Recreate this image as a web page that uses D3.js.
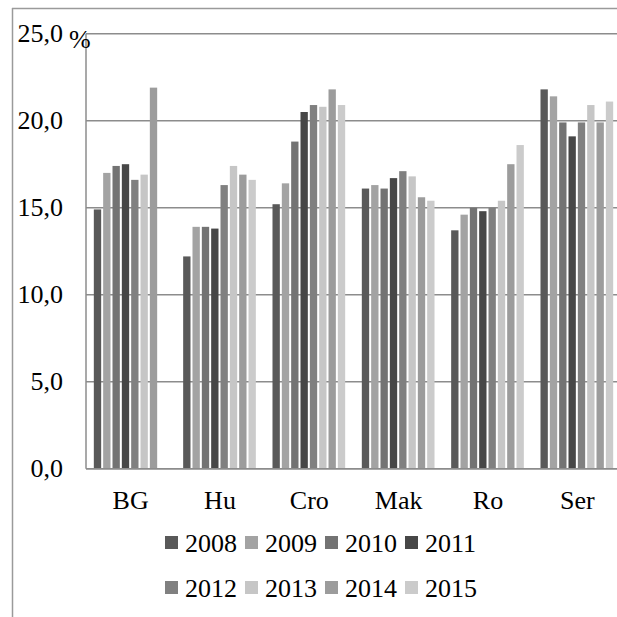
<!DOCTYPE html>
<html>
<head>
<meta charset="utf-8">
<script src="https://cdn.jsdelivr.net/npm/d3@7"></script>
<style>
  html, body { margin: 0; padding: 0; background: #fff; }
  svg { display: block; }
</style>
</head>
<body>
<svg id="chart" width="617" height="617"></svg>
<script>
// Countries along the x axis
const categories = ["BG", "Hu", "Cro", "Mak", "Ro", "Ser"];
// Years shown as the series
const years = ["2008", "2009", "2010", "2011", "2012", "2013", "2014", "2015"];
// Share (%) per country, one array per year
const v2008 = [14.9, 12.2, 15.2, 16.1, 13.7, 21.8];
const v2009 = [17.0, 13.9, 16.4, 16.3, 14.6, 21.4];
const v2010 = [17.4, 13.9, 18.8, 16.1, 15.0, 19.9];
const v2011 = [17.5, 13.8, 20.5, 16.7, 14.8, 19.1];
const v2012 = [16.6, 16.3, 20.9, 17.1, 15.0, 19.9];
const v2013 = [16.9, 17.4, 20.8, 16.8, 15.4, 20.9];
const v2014 = [21.9, 16.9, 21.8, 15.6, 17.5, 19.9];
const v2015 = [null, 16.6, 20.9, 15.4, 18.6, 21.1];
const seriesValues = [v2008, v2009, v2010, v2011, v2012, v2013, v2014, v2015];
// Y axis tick values and their labels
const yTicks = [0, 5, 10, 15, 20, 25];
const yTickLabels = ["0,0", "5,0", "10,0", "15,0", "20,0", "25,0"];
const unitLabel = "%";

const colors = ["#595959", "#a3a3a3", "#737373", "#474747", "#808080", "#c6c6c6", "#9c9c9c", "#cbcbcb"];

const FONT = "'Liberation Serif', 'Times New Roman', 'DejaVu Serif', serif";
const FS = 26;

const svg = d3.select("#chart");
const plot = { left: 86, right: 622, top: 33.7, bottom: 468.7 };
const gridColor = "#8c8c8c";

// Outer frame (left and top edges)
svg.append("line")
  .attr("x1", 12.5).attr("x2", 12.5).attr("y1", 8).attr("y2", 617)
  .attr("stroke", "#9a9a9a").attr("stroke-width", 1.5);
svg.append("line")
  .attr("x1", 12).attr("x2", 617).attr("y1", 8.5).attr("y2", 8.5)
  .attr("stroke", "#9a9a9a").attr("stroke-width", 1.5);

const x = d3.scaleBand().domain(categories).range([plot.left, plot.right]);
const bw = x.bandwidth();
const pad = bw * 0.082;
const xs = d3.scaleBand().domain(years).range([pad, bw - pad]);
const y = d3.scaleLinear().domain([0, 25]).range([plot.bottom, plot.top]);

// Horizontal gridlines
svg.append("g").selectAll("line").data(yTicks).join("line")
  .attr("x1", plot.left).attr("x2", plot.right)
  .attr("y1", d => y(d)).attr("y2", d => y(d))
  .attr("stroke", gridColor).attr("stroke-width", 1.5);

// Vertical axis line
svg.append("line")
  .attr("x1", plot.left).attr("x2", plot.left)
  .attr("y1", y(25)).attr("y2", y(0))
  .attr("stroke", gridColor).attr("stroke-width", 1.5);

// Bars
const groups = svg.append("g").selectAll("g").data(categories).join("g")
  .attr("transform", d => `translate(${x(d)},0)`);
groups.selectAll("rect")
  .data((c, ci) => years.map((yr, k) => ({ yr, k, v: seriesValues[k][ci] })).filter(d => d.v != null))
  .join("rect")
  .attr("x", d => xs(d.yr) + 0.5)
  .attr("width", xs.bandwidth() - 2)
  .attr("y", d => y(d.v))
  .attr("height", d => y(0) - y(d.v))
  .attr("fill", d => colors[d.k]);

// Baseline drawn over bars
svg.append("line")
  .attr("x1", plot.left).attr("x2", plot.right)
  .attr("y1", y(0)).attr("y2", y(0))
  .attr("stroke", gridColor).attr("stroke-width", 1.5);

// Y tick labels
svg.append("g").selectAll("text").data(yTicks).join("text")
  .attr("x", 63).attr("y", d => y(d) + 8.5)
  .attr("text-anchor", "end")
  .attr("font-family", FONT).attr("font-size", FS)
  .text((d, i) => yTickLabels[i]);
svg.append("text").attr("x", 69).attr("y", 48)
  .attr("font-family", FONT).attr("font-size", FS).text(unitLabel);

// Category labels
svg.append("g").selectAll("text").data(categories).join("text")
  .attr("x", d => x(d) + bw / 2).attr("y", 509)
  .attr("text-anchor", "middle")
  .attr("font-family", FONT).attr("font-size", FS)
  .text(d => d);

// Legend: two rows of four
const legend = svg.append("g").selectAll("g").data(years).join("g")
  .attr("transform", (d, i) => `translate(${165 + (i % 4) * 80},${i < 4 ? 536 : 581})`);
legend.append("rect").attr("width", 13).attr("height", 13).attr("fill", (d, i) => colors[i]);
legend.append("text").attr("x", 20).attr("y", 15.5)
  .attr("font-family", FONT).attr("font-size", FS).text(d => d);
</script>
</body>
</html>
